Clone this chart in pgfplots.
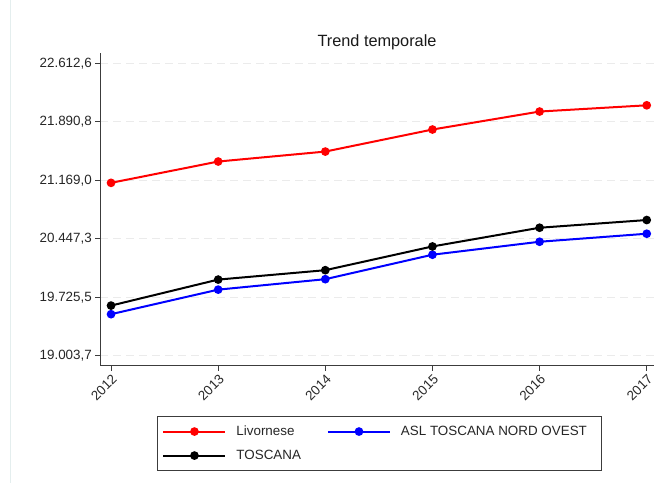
\documentclass[border=0pt]{standalone}
\usepackage{pgfplots}
\pgfplotsset{compat=1.18}
\usepackage{fontspec}
\setmainfont{Liberation Sans}
\definecolor{gridc}{RGB}{235,235,235}
\definecolor{axc}{RGB}{60,60,60}
\definecolor{framec}{RGB}{228,238,238}
\begin{document}
\begin{tikzpicture}[x=1bp,y=1bp]
\path[use as bounding box] (0,0) rectangle (654,485);
\draw[framec, line width=0.8bp] (10.5,2) -- (10.5,485);
\begin{axis}[
  scale only axis,
  width=554bp, height=312.7bp,
  anchor=south west, at={(100bp,119.3bp)},
  clip=false,
  xmin=2011.897, xmax=2017.068,
  ymin=18880.3, ymax=22739.7,
  scaled y ticks=false, scaled x ticks=false,
  axis x line*=bottom, axis y line*=left,
  axis line style={axc, line width=0.9bp},
  xtick={2012,2013,2014,2015,2016,2017},
  xticklabels={2012,2013,2014,2015,2016,2017},
  ytick={19003.7,19725.5,20447.3,21169.0,21890.8,22612.6},
  yticklabels={19.003{,}7,19.725{,}5,20.447{,}3,21.169{,}0,21.890{,}8,22.612{,}6},
  tick align=outside,
  major tick length=5bp,
  tick style={axc, line width=0.8bp},
  ymajorgrids,
  major grid style={gridc, dash pattern=on 8bp off 5bp, line width=0.8bp},
  tick label style={font=\fontsize{13.4bp}{16bp}\selectfont, text=black!85},
  xticklabel style={rotate=45, anchor=north east, inner sep=2bp},
  yticklabel style={inner sep=3bp},
  /pgf/number format/assume math mode=true,
  legend columns=2,
  legend cell align=left,
  legend style={at={(0.1029,-0.1609)}, anchor=north west,
    draw=axc, line width=0.9bp, inner xsep=5bp, inner ysep=7.5bp,
    font=\fontsize{13.4bp}{16bp}\selectfont, text=black!85,
    row sep=9bp,
    /tikz/every even column/.append style={column sep=24bp}},
  legend image code/.code={\draw[line width=2bp, mark repeat=2, mark phase=2] plot coordinates {(0bp,0bp) (31bp,0bp) (62bp,0bp)}; \path (70bp,0bp);},
  every axis plot/.append style={line width=2bp, mark=*, mark size=3.3bp, mark options={solid, line width=0.5bp}},
]
\node[font=\fontsize{16.3bp}{19bp}\selectfont, text=black!90] at (rel axis cs:0.5,1.035) {Trend temporale};
\addplot[red, mark options={fill=red}] coordinates {
  (2012,21137) (2013,21400) (2014,21523) (2015,21795) (2016,22017) (2017,22094)};
\addlegendentry{Livornese}
\addplot[blue, mark options={fill=blue}] coordinates {
  (2012,19516) (2013,19819) (2014,19948) (2015,20250) (2016,20410) (2017,20509)};
\addlegendentry{ASL TOSCANA NORD OVEST\hspace*{8bp}}
\addplot[black, mark options={fill=black}] coordinates {
  (2012,19622) (2013,19943) (2014,20059) (2015,20352) (2016,20583) (2017,20678)};
\addlegendentry{TOSCANA}
\end{axis}
\end{tikzpicture}
\end{document}
